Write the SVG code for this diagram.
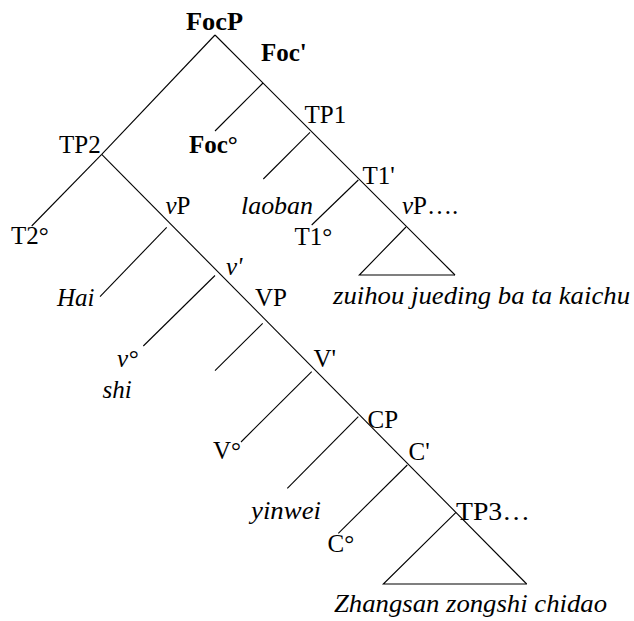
<svg xmlns="http://www.w3.org/2000/svg" width="634" height="621" viewBox="0 0 634 621">
  <rect width="634" height="621" fill="#fff"/>

  <!-- branches of the tree -->
  <g id="connectors" stroke="#000" stroke-width="1.1" fill="none">
    <!-- FocP to TP2 to T2 head -->
    <line x1="215" y1="35" x2="101.7" y2="154.3"/>
    <line x1="101.7" y1="154.3" x2="31.7" y2="226"/>
    <!-- right spine: FocP - Foc' - TP1 - T1' - vP triangle -->
    <line x1="215" y1="35" x2="455" y2="275"/>
    <!-- TP2 spine down to TP3 triangle -->
    <line x1="101.7" y1="154.3" x2="526.7" y2="584"/>
    <!-- left daughters -->
    <line x1="263" y1="83" x2="215" y2="131"/>
    <line x1="310" y1="132.3" x2="263.3" y2="179"/>
    <line x1="358.3" y1="180" x2="311.7" y2="225"/>
    <line x1="166.7" y1="227.3" x2="100" y2="296.7"/>
    <line x1="215" y1="275.5" x2="143.3" y2="346"/>
    <line x1="262.7" y1="323.3" x2="215" y2="370.7"/>
    <line x1="311.7" y1="371.7" x2="241" y2="442"/>
    <line x1="358.3" y1="416.7" x2="287.3" y2="488.3"/>
    <line x1="407.3" y1="465" x2="338.3" y2="533.3"/>
    <!-- triangles -->
    <polyline points="406,227 359.3,275 455,275"/>
    <polyline points="456,512.3 383.3,584 526.7,584"/>
  </g>

  <g id="FocP"><text font-family="Liberation Serif" font-size="25" font-weight="bold" x="186" y="30" textLength="57" lengthAdjust="spacingAndGlyphs">FocP</text></g>
  <g id="Foc-bar"><text font-family="Liberation Serif" font-size="25" font-weight="bold" x="261" y="61">Foc'</text></g>
  <g id="Foc-head"><text font-family="Liberation Serif" font-size="25" font-weight="bold" x="189" y="152.7">Foc&#176;</text></g>
  <g id="TP2"><text font-family="Liberation Serif" font-size="25" x="59" y="153.3">TP2</text></g>
  <g id="T2-head"><text font-family="Liberation Serif" font-size="25" x="11" y="244">T2&#176;</text></g>
  <g id="TP1"><text font-family="Liberation Serif" font-size="25" x="304.5" y="122.7">TP1</text></g>
  <g id="laoban"><text font-family="Liberation Serif" font-size="25" font-style="italic" x="241" y="214" textLength="72" lengthAdjust="spacingAndGlyphs">laoban</text></g>
  <g id="T1-bar"><text font-family="Liberation Serif" font-size="25" x="362.5" y="184">T1'</text></g>
  <g id="T1-head"><text font-family="Liberation Serif" font-size="25" x="294.5" y="245">T1&#176;</text></g>
  <g id="vP1"><text font-family="Liberation Serif" font-size="25" x="402" y="214.3"><tspan font-style="italic">v</tspan>P&#8230;.</text></g>
  <g id="zuihou"><text font-family="Liberation Serif" font-size="25" font-style="italic" x="333" y="304.3" textLength="297" lengthAdjust="spacingAndGlyphs">zuihou jueding ba ta kaichu</text></g>
  <g id="vP2"><text font-family="Liberation Serif" font-size="25" x="165.5" y="214.3"><tspan font-style="italic">v</tspan>P</text></g>
  <g id="Hai"><text font-family="Liberation Serif" font-size="25" font-style="italic" x="57" y="306">Hai</text></g>
  <g id="v-bar"><text font-family="Liberation Serif" font-size="25" font-style="italic" x="226" y="275">v'</text></g>
  <g id="VP"><text font-family="Liberation Serif" font-size="25" x="255" y="305.5">VP</text></g>
  <g id="v-head"><text font-family="Liberation Serif" font-size="25" font-style="italic" x="117" y="366.7">v&#176;</text></g>
  <g id="shi"><text font-family="Liberation Serif" font-size="25" font-style="italic" x="102.5" y="398.3">shi</text></g>
  <g id="V-bar"><text font-family="Liberation Serif" font-size="25" x="313.5" y="367">V'</text></g>
  <g id="V-head"><text font-family="Liberation Serif" font-size="25" x="213" y="459.3">V&#176;</text></g>
  <g id="CP"><text font-family="Liberation Serif" font-size="25" x="367.5" y="428.3">CP</text></g>
  <g id="C-bar"><text font-family="Liberation Serif" font-size="25" x="408.5" y="460">C'</text></g>
  <g id="yinwei"><text font-family="Liberation Serif" font-size="25" font-style="italic" x="251" y="519.3" textLength="70" lengthAdjust="spacingAndGlyphs">yinwei</text></g>
  <g id="C-head"><text font-family="Liberation Serif" font-size="25" x="327.5" y="551.7">C&#176;</text></g>
  <g id="TP3"><text font-family="Liberation Serif" font-size="25" x="456" y="520" textLength="74" lengthAdjust="spacingAndGlyphs">TP3&#8230;</text></g>
  <g id="Zhangsan"><text font-family="Liberation Serif" font-size="25" font-style="italic" x="334" y="611.7" textLength="273" lengthAdjust="spacingAndGlyphs">Zhangsan zongshi chidao</text></g>
</svg>
